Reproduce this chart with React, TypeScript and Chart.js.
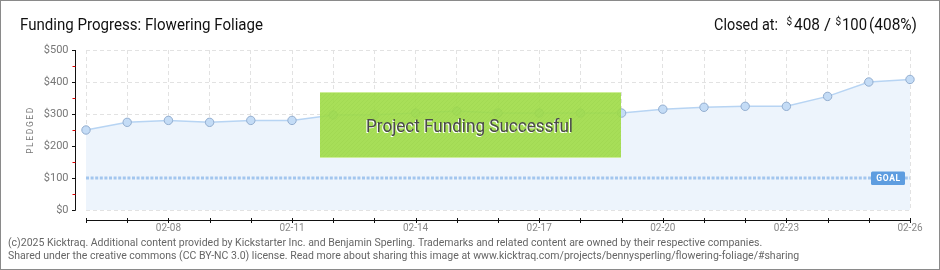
import React, { useEffect, useRef } from 'react';
import { Chart, registerables } from 'chart.js';

Chart.register(...registerables);

// ---- data ----
const dates: string[] = [
  '02-06', '02-07', '02-08', '02-09', '02-10', '02-11', '02-12', '02-13', '02-14', '02-15', '02-16',
  '02-17', '02-18', '02-19', '02-20', '02-21', '02-22', '02-23', '02-24', '02-25', '02-26',
];
const pledged: number[] = [
  250, 274, 280, 274, 280, 280, 297, 298, 303, 309, 303,
  303, 303, 303, 315, 321, 324, 324, 355, 400, 408,
];
const goalAmount = 100;
const goalLine: number[] = [100, 100, 100, 100, 100, 100, 100, 100, 100, 100, 100, 100, 100, 100, 100, 100, 100, 100, 100, 100, 100];
const yTickValues: number[] = [0, 100, 200, 300, 400, 500];
const yMinorValues: number[] = [50, 150, 250, 350, 450];
const xLabelDates: string[] = ['02-08', '02-11', '02-14', '02-17', '02-20', '02-23', '02-26'];

const titleText = 'Funding Progress: Flowering Foliage';
const closedLabel = 'Closed at:';
const closedAmount = '408';
const closedGoal = '100';
const closedPercent = '(408%)';
const bannerText = 'Project Funding Successful';
const yAxisTitle = 'PLEDGED';
const goalTag = 'GOAL';
const footerLine1 = '(c)2025 Kicktraq. Additional content provided by Kickstarter Inc. and Benjamin Sperling. Trademarks and related content are owned by their respective companies.';
const footerLine2 = 'Shared under the creative commons (CC BY-NC 3.0) license. Read more about sharing this image at www.kicktraq.com/projects/bennysperling/flowering-foliage/#sharing';

const FONT = 'Roboto, "Noto Sans", "DejaVu Sans", sans-serif';

const decorPlugin = {
  id: 'kicktraqDecor',
  beforeDraw(chart: any) {
    const ctx = chart.ctx as CanvasRenderingContext2D;
    ctx.save();
    ctx.fillStyle = '#ffffff';
    ctx.fillRect(0, 0, chart.width, chart.height);
    ctx.restore();
  },
  afterDatasetsDraw(chart: any) {
    const ctx = chart.ctx as CanvasRenderingContext2D;
    const xs = chart.scales.x;
    const ys = chart.scales.y;
    const area = chart.chartArea;
    ctx.save();

    // y axis line and ticks
    const axisX = 75.5;
    ctx.strokeStyle = '#111';
    ctx.lineWidth = 1;
    ctx.beginPath();
    ctx.moveTo(axisX, ys.getPixelForValue(500));
    ctx.lineTo(axisX, ys.getPixelForValue(0) + 0.5);
    ctx.stroke();
    for (const v of yTickValues) {
      const y = Math.round(ys.getPixelForValue(v)) + 0.5;
      ctx.strokeStyle = '#111';
      ctx.beginPath();
      ctx.moveTo(axisX - 3.5, y);
      ctx.lineTo(axisX, y);
      ctx.stroke();
    }
    for (const v of yMinorValues) {
      const y = Math.round(ys.getPixelForValue(v)) + 0.5;
      ctx.strokeStyle = '#e00000';
      ctx.beginPath();
      ctx.moveTo(axisX - 3, y);
      ctx.lineTo(axisX, y);
      ctx.stroke();
    }
    ctx.fillStyle = '#777';
    ctx.font = `11px ${FONT}`;
    ctx.textAlign = 'right';
    ctx.textBaseline = 'middle';
    for (const v of yTickValues) {
      ctx.fillText('$' + v, 68.5, ys.getPixelForValue(v) + 0.5);
    }

    // y axis title
    ctx.save();
    ctx.translate(31, 130);
    ctx.rotate(-Math.PI / 2);
    ctx.font = `8.5px ${FONT}`;
    (ctx as any).letterSpacing = '1.6px';
    ctx.textAlign = 'center';
    ctx.textBaseline = 'middle';
    ctx.fillStyle = '#777';
    ctx.fillText(yAxisTitle, 0, 0);
    ctx.restore();

    // x axis line and ticks
    const axisY = 220.5;
    const x0 = xs.getPixelForValue(0);
    const x1 = xs.getPixelForValue(dates.length - 1);
    ctx.strokeStyle = '#111';
    ctx.beginPath();
    ctx.moveTo(x0, axisY);
    ctx.lineTo(x1 + 0.5, axisY);
    ctx.stroke();
    dates.forEach((d, i) => {
      const x = Math.round(xs.getPixelForValue(i)) + 0.5;
      ctx.beginPath();
      ctx.moveTo(x, axisY - 2.5);
      ctx.lineTo(x, axisY + 2.5);
      ctx.stroke();
    });
    ctx.fillStyle = '#888';
    ctx.font = `10px ${FONT}`;
    ctx.textAlign = 'center';
    ctx.textBaseline = 'middle';
    dates.forEach((d, i) => {
      if (xLabelDates.includes(d)) {
        ctx.fillText(d, xs.getPixelForValue(i), 228.5);
      }
    });

    // GOAL tag
    const gy = ys.getPixelForValue(goalAmount);
    const tagL = 871, tagR = 905;
    ctx.fillStyle = '#5e9de0';
    ctx.beginPath();
    (ctx as any).roundRect(tagL, gy - 6.5, tagR - tagL, 13.5, 1.5);
    ctx.fill();
    ctx.fillStyle = '#ffffff';
    ctx.font = `bold 8.5px ${FONT}`;
    ctx.textAlign = 'center';
    ctx.textBaseline = 'middle';
    (ctx as any).letterSpacing = '0.6px';
    ctx.fillText(goalTag, (tagL + tagR) / 2 + 0.5, gy + 0.5);
    (ctx as any).letterSpacing = '0px';

    // success banner
    const bx = 320, by = 92, bw = 301, bh = 66;
    ctx.fillStyle = 'rgba(158,219,70,0.9)';
    ctx.fillRect(bx, by, bw, bh);
    ctx.save();
    ctx.beginPath();
    ctx.rect(bx, by, bw, bh);
    ctx.clip();
    ctx.strokeStyle = 'rgba(120,180,40,0.10)';
    ctx.lineWidth = 1;
    for (let s = -bh; s < bw + bh; s += 4) {
      ctx.beginPath();
      ctx.moveTo(bx + s, by + bh);
      ctx.lineTo(bx + s + bh, by);
      ctx.stroke();
    }
    ctx.restore();
    ctx.strokeStyle = 'rgba(210,240,160,0.9)';
    ctx.beginPath();
    ctx.moveTo(bx, by + 0.5);
    ctx.lineTo(bx + bw, by + 0.5);
    ctx.moveTo(bx, by + bh - 0.5);
    ctx.lineTo(bx + bw, by + bh - 0.5);
    ctx.stroke();
    ctx.font = `18px ${FONT}`;
    ctx.textAlign = 'left';
    ctx.textBaseline = 'alphabetic';
    ctx.fillStyle = '#ffffff';
    ctx.fillText(bannerText, 365, 132.5, 207);
    ctx.fillStyle = '#4a4a4a';
    ctx.fillText(bannerText, 366, 131.5, 207);

    // title
    ctx.fillStyle = '#111';
    ctx.font = `17px ${FONT}`;
    ctx.textAlign = 'left';
    ctx.textBaseline = 'alphabetic';
    ctx.fillText(titleText, 20, 30, 243);

    // closed at
    ctx.fillText(closedLabel, 714, 30, 64);
    ctx.fillText(closedAmount, 794, 30, 26);
    ctx.fillText('/', 824, 30);
    ctx.fillText(closedGoal, 842, 30, 25);
    ctx.fillText(closedPercent, 869, 30, 48);
    ctx.font = `10px ${FONT}`;
    ctx.fillText('$', 786.5, 25);
    ctx.fillText('$', 835.5, 25);

    // footer
    ctx.fillStyle = '#666';
    ctx.font = `10.5px ${FONT}`;
    ctx.textBaseline = 'middle';
    ctx.fillText(footerLine1, 8, 243.5, 758);
    ctx.fillText(footerLine2, 8, 256, 792);

    // outer border
    ctx.strokeStyle = '#8a8a8a';
    ctx.lineWidth = 1;
    ctx.strokeRect(0.5, 0.5, chart.width - 1, chart.height - 1);

    ctx.restore();
  },
};

export default function App() {
  const canvasRef = useRef<HTMLCanvasElement | null>(null);

  useEffect(() => {
    const canvas = canvasRef.current;
    if (!canvas) return;
    const chart = new Chart(canvas, {
      type: 'line',
      data: {
        labels: dates,
        datasets: [
          {
            label: 'Goal',
            data: goalLine,
            borderColor: '#a3c6ee',
            borderWidth: 3,
            borderDash: [3, 1.6],
            borderCapStyle: 'butt',
            pointRadius: 0,
            fill: false,
            order: 0,
            clip: false as any,
          },
          {
            label: 'Pledged',
            data: pledged,
            borderColor: '#b7d4f3',
            borderWidth: 1.5,
            backgroundColor: '#edf4fc',
            fill: 'origin',
            tension: 0,
            pointRadius: 4.2,
            pointBackgroundColor: '#c4dcf6',
            pointBorderColor: '#93aed0',
            pointBorderWidth: 1,
            order: 1,
            clip: false as any,
          },
        ],
      },
      options: {
        animation: false,
        responsive: true,
        maintainAspectRatio: false,
        devicePixelRatio: 1,
        layout: { padding: { left: 86, right: 30, top: 50, bottom: 60 }, autoPadding: false } as any,
        plugins: { legend: { display: false }, tooltip: { enabled: false }, title: { display: false } },
        scales: {
          x: {
            type: 'category',
            offset: false,
            grid: { color: '#e2e2e2', drawTicks: false, lineWidth: 1 },
            border: { display: false, dash: [4, 3] },
            ticks: { display: false, autoSkip: false },
          },
          y: {
            min: 0,
            max: 500,
            grid: { color: '#e2e2e2', drawTicks: false, lineWidth: 1 },
            border: { display: false, dash: [4, 3] },
            ticks: { display: false, stepSize: 100 },
          },
        },
      },
      plugins: [decorPlugin],
    });
    return () => chart.destroy();
  }, []);

  return (
    <div style={{ position: 'absolute', left: 0, top: 0, width: 940, height: 270 }}>
      <canvas ref={canvasRef} />
    </div>
  );
}
